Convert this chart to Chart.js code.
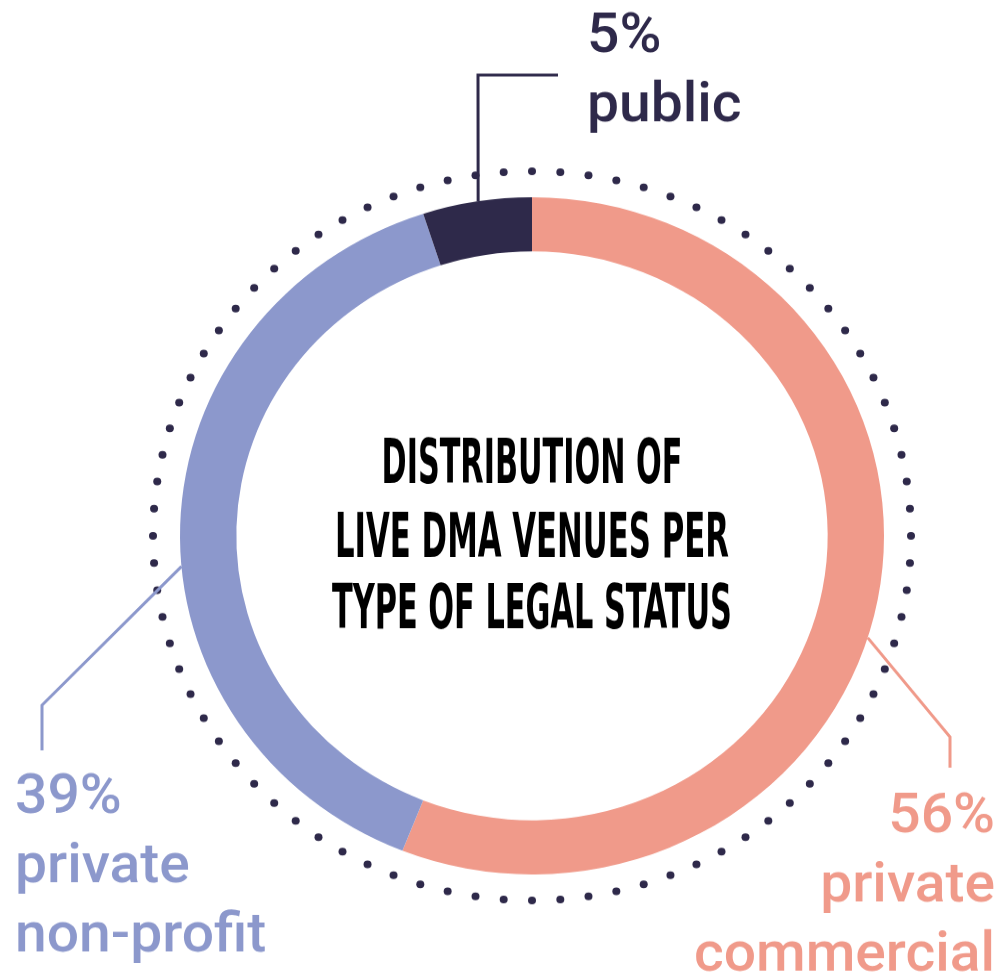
<!DOCTYPE html>
<html>
<head>
<meta charset="utf-8">
<script src="https://cdn.jsdelivr.net/npm/chart.js@4/dist/chart.umd.min.js"></script>
<style>
  html, body { margin: 0; padding: 0; background: #fff; overflow: hidden; }
  #wrap { width: 1006px; height: 1016px; transform: scaleY(0.962); transform-origin: 0 0; }
</style>
</head>
<body>
<div id="wrap"><canvas id="legalChart" width="1006" height="1016"></canvas></div>
<script>
// data
const categories = ['private commercial', 'private non-profit', 'public'];
const shares = [56, 39, 5];
const titleLines = ['DISTRIBUTION OF', 'LIVE DMA VENUES PER', 'TYPE OF LEGAL STATUS'];

const colors = ['#f09a8a', '#8c98cc', '#2e294a'];
const DARK = '#2e294a';

// callout layout: anchor angle on ring (deg clockwise from top), elbow points, text spot
const callouts = [
    { anchor: 107.5, path: [[950, 766], [950, 798]], x: 995, y: 865, align: 'right' },
    { anchor: 264.8, path: [[42, 733], [42, 780]], x: 15, y: 845, align: 'left' },
    { anchor: -8.8, path: [[478, 78], [558, 78]], x: 587, y: 54, align: 'left' }
];

const ringDecor = {
    id: 'ringDecor',
    afterDatasetsDraw(chart) {
        const ctx = chart.ctx;
        const arc = chart.getDatasetMeta(0).data[0];
        const cx = arc.x, cy = arc.y, R = arc.outerRadius;

        // dotted outer circle
        const dr = 379;
        const n = 84;
        ctx.save();
        ctx.fillStyle = DARK;
        for (let i = 0; i < n; i++) {
            const a = (i / n) * Math.PI * 2;
            ctx.beginPath();
            ctx.arc(cx + dr * Math.cos(a), cy + dr * Math.sin(a), 4, 0, Math.PI * 2);
            ctx.fill();
        }

        // leader lines + labels
        callouts.forEach((c, i) => {
            const rad = (c.anchor - 90) * Math.PI / 180;
            ctx.strokeStyle = colors[i];
            ctx.lineWidth = 3;
            ctx.beginPath();
            ctx.moveTo(cx + R * Math.cos(rad), cy + R * Math.sin(rad));
            c.path.forEach(p => ctx.lineTo(p[0], p[1]));
            ctx.stroke();

            ctx.fillStyle = colors[i];
            ctx.font = '500 57px Roboto, "Noto Sans", sans-serif';
            ctx.textAlign = c.align;
            ctx.textBaseline = 'alphabetic';
            const words = categories[i].split(' ');
            const lines = [shares[i] + '%'].concat(words);
            lines.forEach((t, k) => ctx.fillText(t, c.x, c.y + k * 72));
        });

        // centre title
        ctx.fillStyle = '#000';
        ctx.textAlign = 'center';
        ctx.font = 'bold 64px "Liberation Sans Narrow", "DejaVu Sans Condensed", sans-serif';
        const widths = [301, 394, 400];
        const base = [502, 579, 653];
        titleLines.forEach((t, k) => ctx.fillText(t, cx, base[k], widths[k]));
        ctx.restore();
    }
};

new Chart(document.getElementById('legalChart'), {
    type: 'doughnut',
    data: {
        labels: categories,
        datasets: [{
            data: shares,
            backgroundColor: colors,
            borderWidth: 0
        }]
    },
    options: {
        responsive: false,
        animation: false,
        cutout: '84%',
        layout: { padding: { left: 180, right: 122, top: 205, bottom: 107 } },
        plugins: {
            legend: { display: false },
            tooltip: { enabled: false }
        }
    },
    plugins: [ringDecor]
});
</script>
</body>
</html>
